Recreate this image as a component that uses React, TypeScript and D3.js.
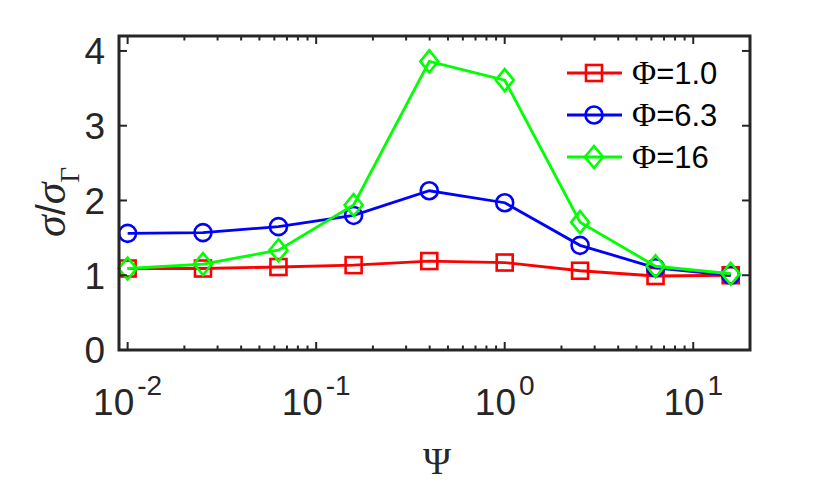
import React from "react";
import * as d3 from "d3";

const psi = [0.01, 0.0251, 0.0631, 0.158, 0.398, 1.0, 2.51, 6.31, 15.8];
const phi10 = [1.09, 1.09, 1.11, 1.135, 1.19, 1.17, 1.06, 0.99, 1.0];
const phi63 = [1.56, 1.57, 1.65, 1.8, 2.13, 1.97, 1.4, 1.1, 1.0];
const phi16 = [1.09, 1.15, 1.335, 1.94, 3.86, 3.61, 1.71, 1.12, 1.02];
const seriesNames = ["Φ=1.0", "Φ=6.3", "Φ=16"];
const seriesColors = ["#ff0000", "#0000ff", "#00ff00"];
const seriesMarkers = ["square", "circle", "diamond"];
const xTickExps = [-2, -1, 0, 1];
const yTicks = [0, 1, 2, 3, 4];

const W = 830, H = 483;
const L = 119, R = 750, T = 36, B = 350;
const AX = "#262626";

function Marker({ type, x, y, color }: { type: string; x: number; y: number; color: string }) {
  const sw = 2.6;
  if (type === "square")
    return <rect x={x - 8} y={y - 8} width={16} height={16} fill="none" stroke={color} strokeWidth={sw} />;
  if (type === "circle")
    return <circle cx={x} cy={y} r={8.5} fill="none" stroke={color} strokeWidth={sw} />;
  return (
    <path
      d={`M${x},${y - 11}L${x + 9},${y}L${x},${y + 11}L${x - 9},${y}Z`}
      fill="none"
      stroke={color}
      strokeWidth={sw}
    />
  );
}

export default function App() {
  const x = d3.scaleLog().domain([0.009, 20]).range([L, R]);
  const y = d3.scaleLinear().domain([0, 4.2]).range([B, T]);
  const data = [phi10, phi63, phi16];
  const line = d3
    .line<number>()
    .x((_, i) => x(psi[i]))
    .y((d) => y(d));

  const minor: number[] = [];
  for (let e = -3; e <= 1; e++) {
    for (let m = 2; m <= 9; m++) {
      const v = m * Math.pow(10, e);
      if (v >= 0.009 && v <= 20) minor.push(v);
    }
  }
  const major = xTickExps.map((e) => Math.pow(10, e));

  return (
    <svg width={W} height={H} style={{ display: "block", position: "absolute", left: 0, top: 0 }}>
      <rect x={0} y={0} width={W} height={H} fill="#fff" />
      {/* series */}
      {data.map((s, si) => (
        <g key={si}>
          <path d={line(s) || ""} fill="none" stroke={seriesColors[si]} strokeWidth={2.8} />
          {s.map((v, i) => (
            <Marker key={i} type={seriesMarkers[si]} x={x(psi[i])} y={y(v)} color={seriesColors[si]} />
          ))}
        </g>
      ))}
      {/* ticks */}
      <g stroke={AX} strokeWidth={2}>
        {major.map((v, i) => (
          <g key={"M" + i}>
            <line x1={x(v)} x2={x(v)} y1={B} y2={B - 8} />
            <line x1={x(v)} x2={x(v)} y1={T} y2={T + 8} />
          </g>
        ))}
        {minor.map((v, i) => (
          <g key={"m" + i}>
            <line x1={x(v)} x2={x(v)} y1={B} y2={B - 4.5} />
            <line x1={x(v)} x2={x(v)} y1={T} y2={T + 4.5} />
          </g>
        ))}
        {yTicks.map((v, i) => (
          <g key={"y" + i}>
            <line x1={L} x2={L + 8} y1={y(v)} y2={y(v)} />
            <line x1={R} x2={R - 8} y1={y(v)} y2={y(v)} />
          </g>
        ))}
      </g>
      <rect x={L} y={T} width={R - L} height={B - T} fill="none" stroke={AX} strokeWidth={3} />
      {/* tick labels */}
      <g fill={AX} fontFamily="'Liberation Sans', Arial, sans-serif">
        {yTicks.map((v, i) => (
          <text key={i} x={105} y={y(v)} dy="0.36em" textAnchor="end" fontSize={37}>
            {v}
          </text>
        ))}
        {xTickExps.map((e, i) => (
          <text key={i} x={x(Math.pow(10, e))} y={415} textAnchor="middle" fontSize={37}>
            10
            <tspan fontSize={28} dx={3} dy={-20}>
              {e}
            </tspan>
          </text>
        ))}
      </g>
      {/* axis labels */}
      <text x={437} y={474} textAnchor="middle" fontSize={38} fill={AX} fontFamily="'Liberation Serif', 'Times New Roman', serif">
        Ψ
      </text>
      <g transform="translate(65,0) rotate(-90)">
        <text x={-237} y={0} textAnchor="start" fontSize={44} fill={AX} fontFamily="'Liberation Serif', 'Times New Roman', serif">
          <tspan fontStyle="italic">σ</tspan>
          <tspan fontFamily="'Liberation Sans', Arial, sans-serif" fontSize={40}>/</tspan>
          <tspan fontStyle="italic">σ</tspan>
          <tspan fontSize={27} dy={14}>Γ</tspan>
        </text>
      </g>
      {/* legend */}
      {seriesNames.map((n, i) => {
        const ly = 73 + i * 42;
        return (
          <g key={i}>
            <line x1={567} x2={622} y1={ly} y2={ly} stroke={seriesColors[i]} strokeWidth={2.8} />
            <Marker type={seriesMarkers[i]} x={594} y={ly} color={seriesColors[i]} />
            <text x={632} y={ly} dy="0.36em" fontSize={31} fill="#000" fontFamily="'Liberation Sans', Arial, sans-serif">
              <tspan fontFamily="'Liberation Serif', 'Times New Roman', serif" fontSize={33}>{n.slice(0, 1)}</tspan>
              {n.slice(1)}
            </text>
          </g>
        );
      })}
    </svg>
  );
}
